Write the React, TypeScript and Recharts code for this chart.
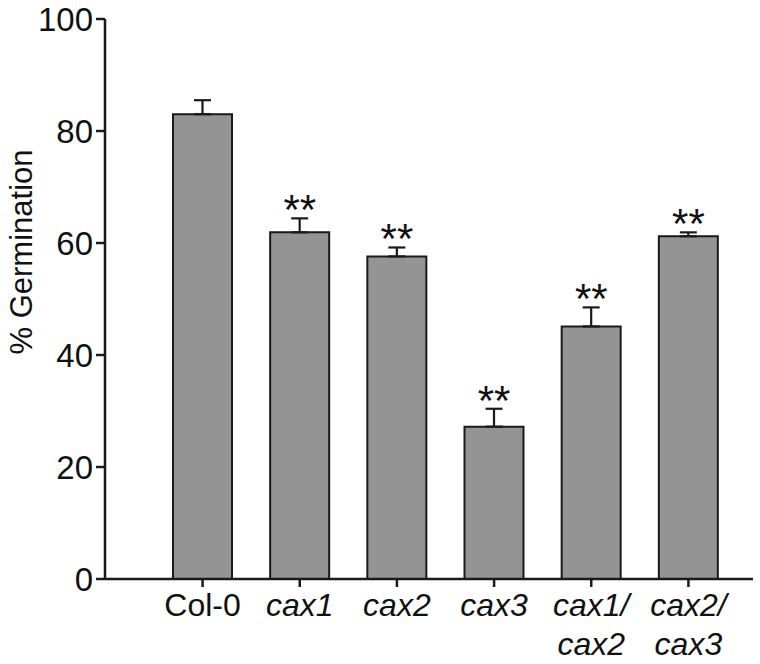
import React from "react"
import { ComposedChart, Bar, Line, XAxis, YAxis, ErrorBar, LabelList } from "recharts"

const genotypes = ["Col-0", "cax1", "cax2", "cax3", "cax1/cax2", "cax2/cax3"]
const germination = [83.0, 61.9, 57.6, 27.2, 45.1, 61.2]
const sem = [2.5, 2.5, 1.6, 3.2, 3.4, 0.7]
const significance = ["", "**", "**", "**", "**", "**"]
const yTicks = [0, 20, 40, 60, 80, 100]

const FONT = "'Liberation Sans', Arial, Helvetica, sans-serif"
const INK = "#1a1a1a"

const chartData = genotypes.map((name, i) => ({
  name,
  value: germination[i],
  err: [0, sem[i]],
  errTop: germination[i] + sem[i],
  sig: significance[i],
}))

function GenotypeTick(props: any) {
  const { x, y, payload } = props
  const label: string = payload.value
  const italic = label !== "Col-0"
  const parts = label.includes("/") ? [label.split("/")[0] + "/", label.split("/")[1]] : [label]
  return (
    <text
      x={x}
      y={y}
      textAnchor="middle"
      fontFamily={FONT}
      fontSize={32}
      fontStyle={italic ? "italic" : "normal"}
      fill="#111"
    >
      {parts.map((p, i) => (
        <tspan key={i} x={x} dy={i === 0 ? 27 : 39}>
          {p}
        </tspan>
      ))}
    </text>
  )
}

function YTitle() {
  return (
    <text
      x={32}
      y={252}
      transform="rotate(-90 32 252)"
      textAnchor="middle"
      fontFamily={FONT}
      fontSize={31}
      fill="#111"
    >
      % Germination
    </text>
  )
}

function Stars(props: any) {
  const { x, y, value } = props
  if (!value) return null
  return (
    <text x={x} y={y + 6} textAnchor="middle" fontFamily={FONT} fontSize={42} fill="#111">
      {value}
    </text>
  )
}

export default function App() {
  return (
    <div style={{ position: "absolute", left: 0, top: 0, background: "#fff" }}>
      <ComposedChart
        width={760}
        height={664}
        data={chartData}
        margin={{ top: 19, right: 7, left: 0, bottom: 0 }}
      >
        <XAxis
          dataKey="name"
          height={85}
          padding={{ left: 49, right: 16 }}
          tickSize={8}
          tickMargin={2}
          axisLine={{ stroke: INK, strokeWidth: 2.5 }}
          tickLine={{ stroke: INK, strokeWidth: 2.5 }}
          tick={<GenotypeTick />}
          interval={0}
        />
        <YAxis
          width={105}
          domain={[0, 100]}
          ticks={yTicks}
          tickSize={9}
          tickMargin={3}
          axisLine={{ stroke: INK, strokeWidth: 2.5 }}
          tickLine={{ stroke: INK, strokeWidth: 2.5 }}
          tick={{ fill: "#111", fontSize: 33, fontFamily: FONT }}
          label={<YTitle />}
        />
        <Bar
          dataKey="value"
          fill="#949494"
          stroke={INK}
          strokeWidth={2}
          barSize={59}
          isAnimationActive={false}
        >
          <ErrorBar dataKey="err" width={8.5} stroke={INK} strokeWidth={2.2} direction="y" />
        </Bar>
        <Line
          dataKey="errTop"
          stroke="none"
          dot={false}
          activeDot={false}
          legendType="none"
          isAnimationActive={false}
        >
          <LabelList dataKey="sig" content={<Stars />} />
        </Line>
      </ComposedChart>
    </div>
  )
}
